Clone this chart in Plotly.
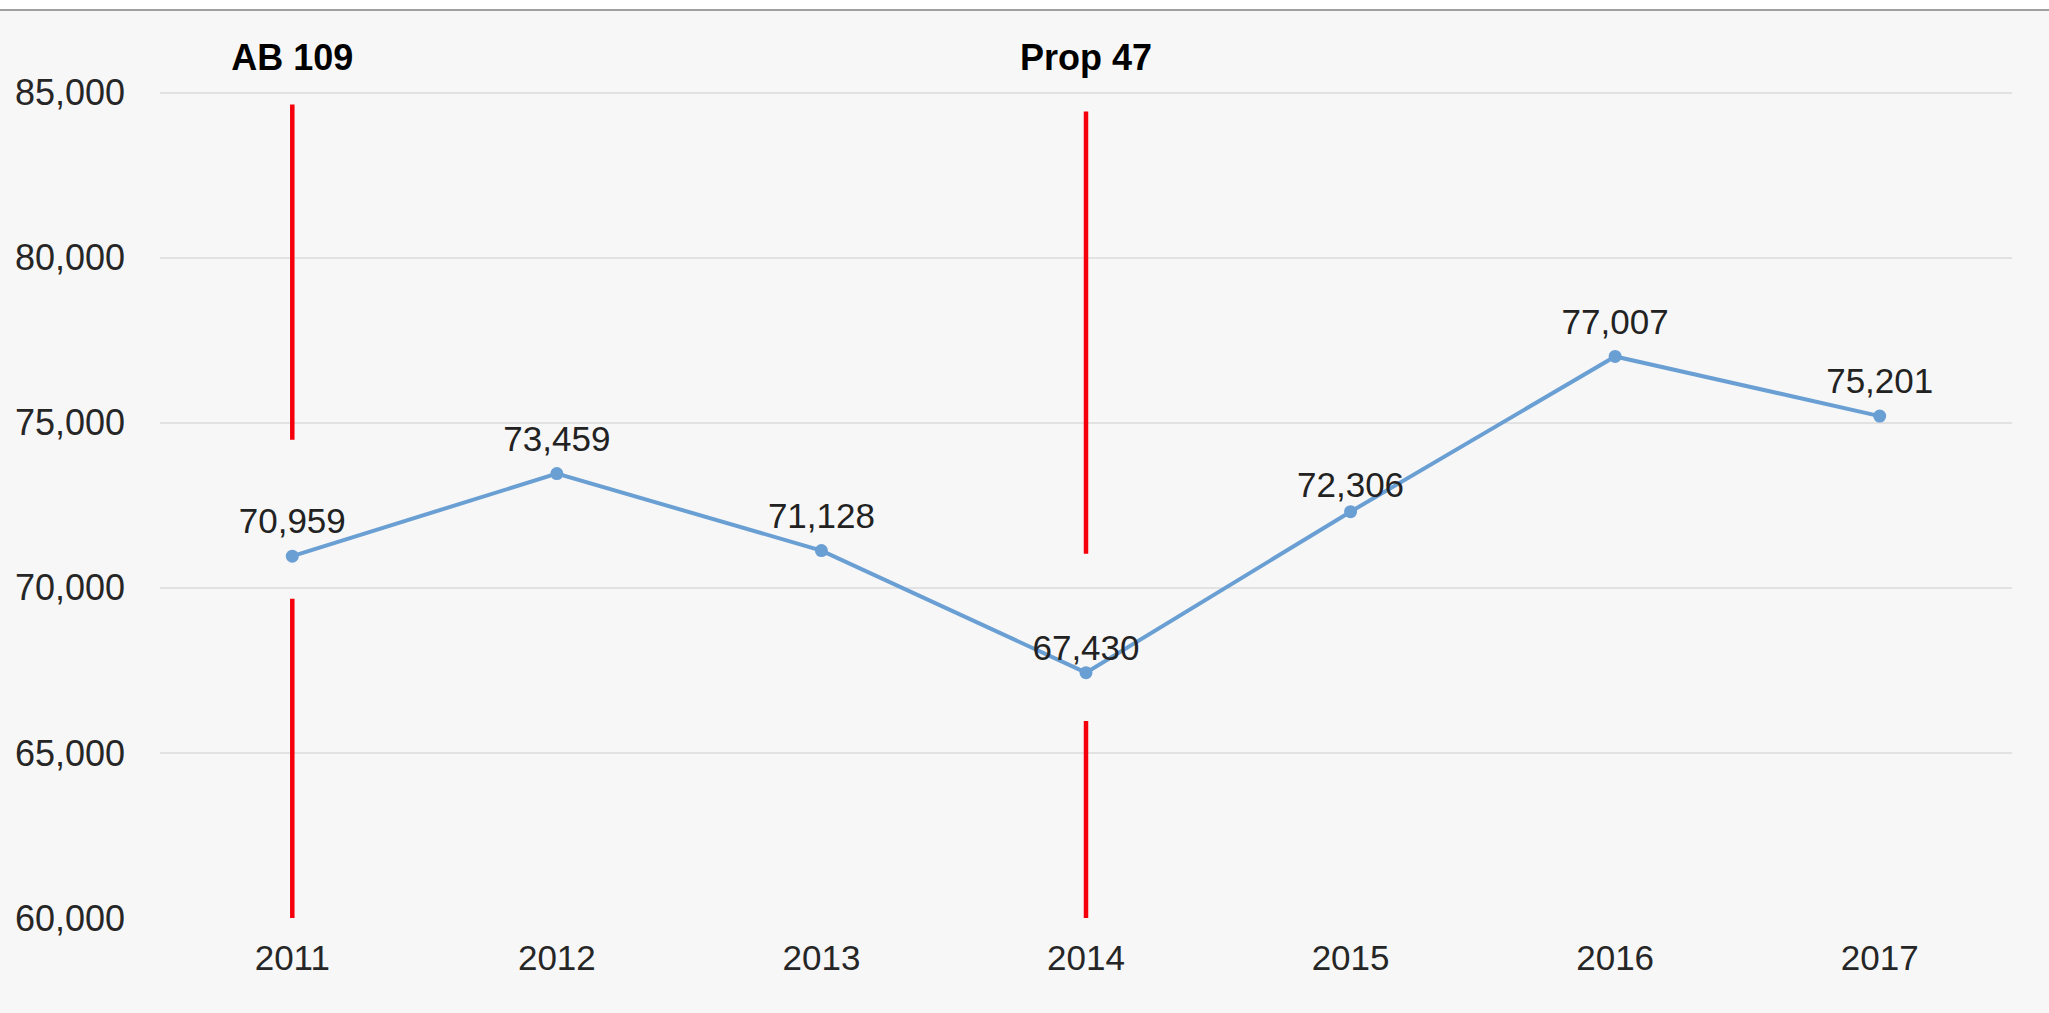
import plotly.graph_objects as go

years = ["2011", "2012", "2013", "2014", "2015", "2016", "2017"]
values = [70959, 73459, 71128, 67430, 72306, 77007, 75201]
value_labels = [f"{v:,}" for v in values]

policy_years = ["2011", "2014"]
policy_labels = ["<b>AB 109</b>", "<b>Prop 47</b>"]
policy_label_level = [85950, 85950]
# red marker segments (value ranges) for each policy line
policy_upper = [(74485, 84636), (71030, 84424)]
policy_lower = [(60000, 69667), (60000, 65970)]

y_ticks = [60000, 65000, 70000, 75000, 80000, 85000]

FONT = "Liberation Sans, Arial, sans-serif"
LINE_COLOR = "#6a9fd4"
RED = "#f5000a"

fig = go.Figure()

# series first so that category order follows the years
fig.add_trace(go.Scatter(
    x=years, y=values, mode="lines+markers",
    line=dict(color=LINE_COLOR, width=4),
    marker=dict(color=LINE_COLOR, size=13),
    showlegend=False, cliponaxis=False))

for yr, up, lo in zip(policy_years, policy_upper, policy_lower):
    for seg in (up, lo):
        fig.add_trace(go.Scatter(
            x=[yr, yr], y=list(seg), mode="lines",
            line=dict(color=RED, width=4.5), hoverinfo="skip", showlegend=False))

# data labels (invisible marker size sets the gap between point and text)
label_gap = {"2014": 5, "2015": 8}
groups = {}
for i, yr in enumerate(years):
    groups.setdefault(label_gap.get(yr, 21), []).append(i)
for gap, idx in groups.items():
    fig.add_trace(go.Scatter(
        x=[years[i] for i in idx], y=[values[i] for i in idx],
        text=[value_labels[i] for i in idx], mode="markers+text",
        marker=dict(size=gap, opacity=0), textposition="top center",
        textfont=dict(family=FONT, size=35, color="#222222"),
        hoverinfo="skip", showlegend=False, cliponaxis=False))

# policy labels
fig.add_trace(go.Scatter(
    x=policy_years, y=policy_label_level, text=policy_labels, mode="text",
    textposition="middle center",
    textfont=dict(family=FONT, size=36, color="#000000"),
    hoverinfo="skip", showlegend=False, cliponaxis=False))

fig.update_layout(
    width=2049, height=1013,
    margin=dict(l=160, r=37, t=43, b=95),
    paper_bgcolor="#f7f7f7", plot_bgcolor="#f7f7f7",
    shapes=[
        dict(type="rect", xref="paper", yref="paper", x0=-0.2, x1=1.1,
             y0=1 + 33 / 875, y1=1.2, fillcolor="#ffffff", line=dict(width=0),
             layer="below"),
        dict(type="line", xref="paper", yref="paper", x0=-0.2, x1=1.1,
             y0=1 + 33 / 875, y1=1 + 33 / 875, line=dict(color="#a0a0a0", width=2)),
    ],
    xaxis=dict(
        type="category", categoryorder="array", categoryarray=years,
        range=[-0.5, 6.5], showgrid=False, zeroline=False,
        showline=False, ticks="", ticklabelstandoff=16,
        tickfont=dict(family=FONT, size=35, color="#262626")),
    yaxis=dict(
        range=[60000, 86500], tickvals=y_ticks, tickformat=",",
        showgrid=True, gridcolor="#e2e2e2", gridwidth=2, zeroline=False,
        showline=False, ticks="", ticklabelstandoff=34,
        tickfont=dict(family=FONT, size=36, color="#262626")),
)

fig.write_html("out.html", config={"displayModeBar": False},
               post_script="document.body.style.margin='0';")
